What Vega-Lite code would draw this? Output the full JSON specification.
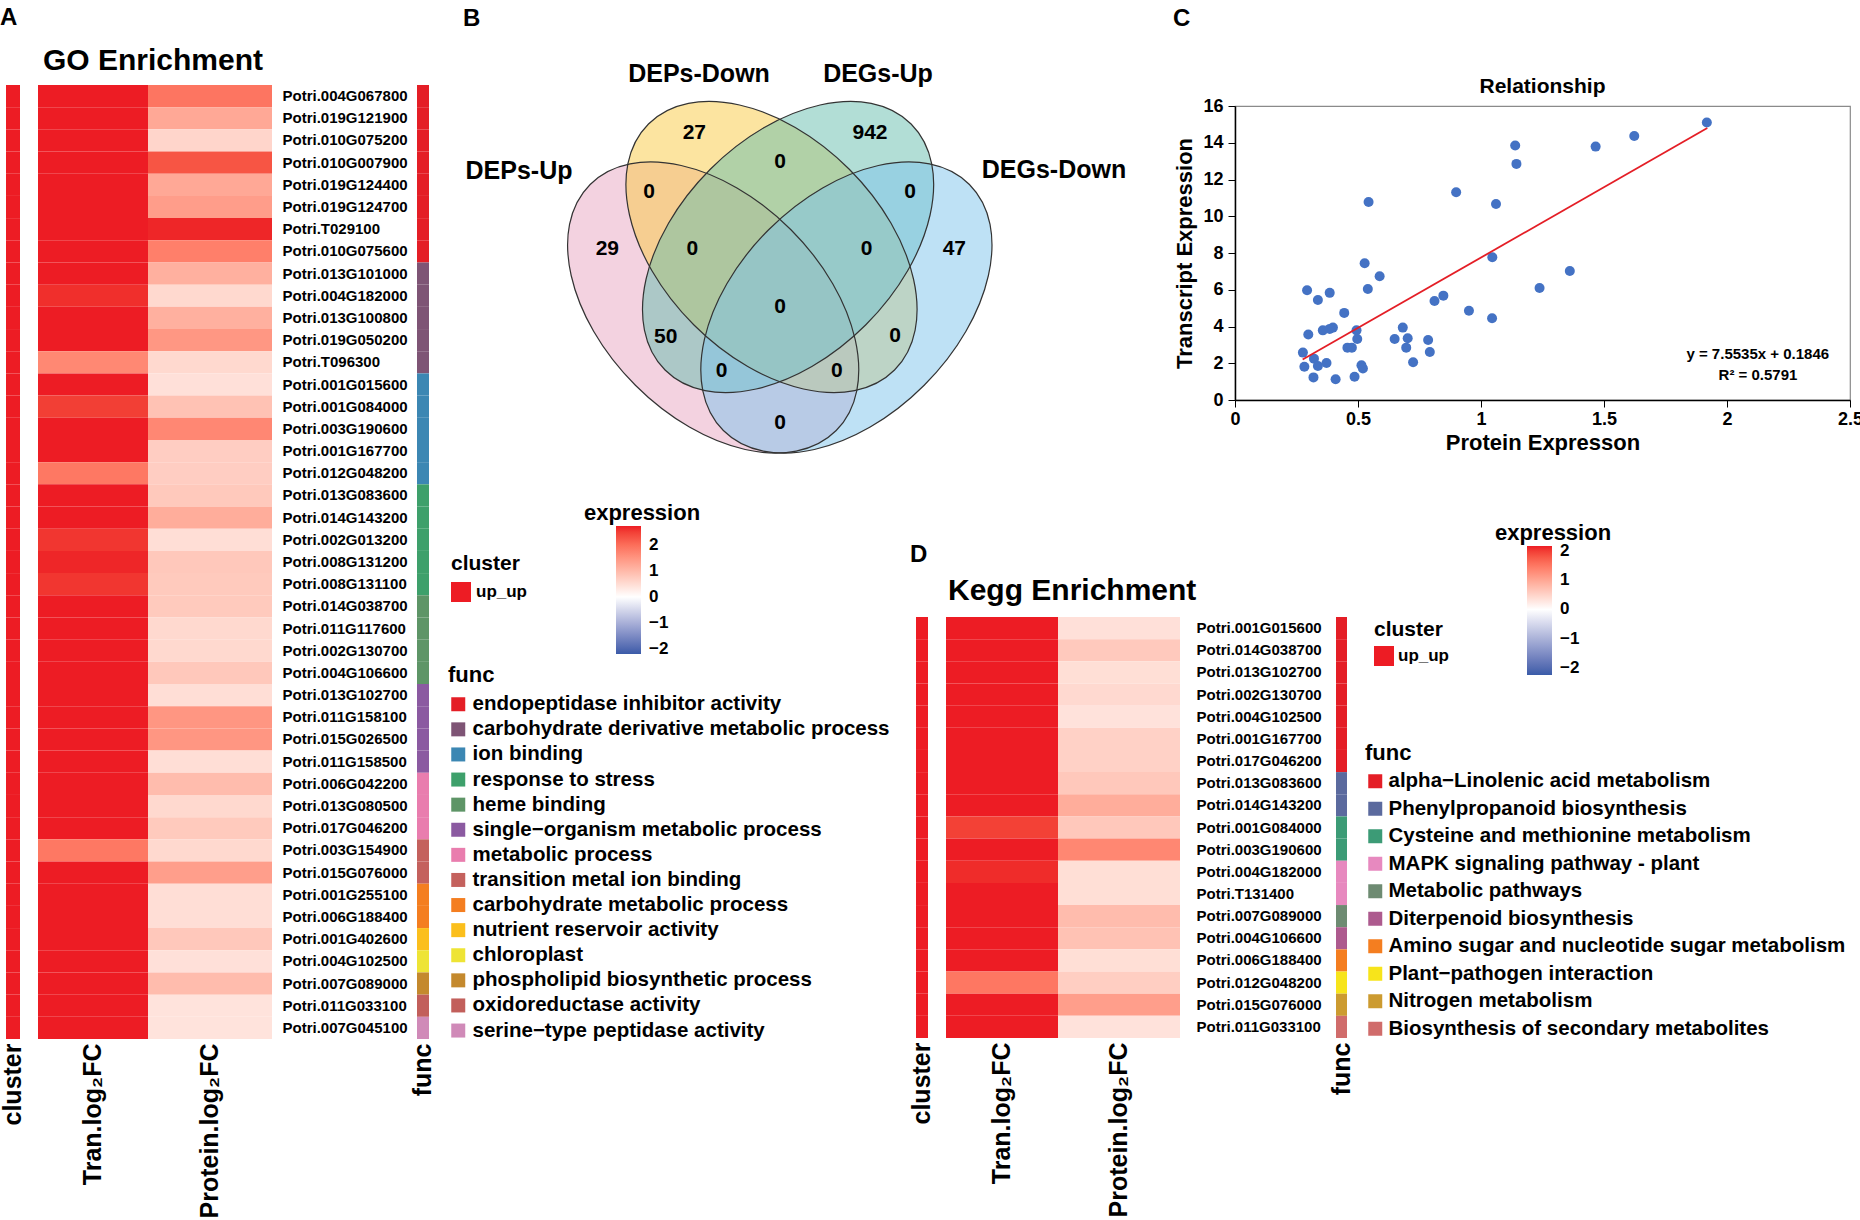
{
"$schema": "https://vega.github.io/schema/vega-lite/v6.json",
"background": "white",
"padding": {"top": 6, "left": 0, "right": 0, "bottom": 0},
"config": {
  "view": {"stroke": null},
  "font": "Liberation Sans",
  "title": {"color": "#000", "fontWeight": "bold"},
  "axis": {"labelColor": "#000", "titleColor": "#000"},
  "legend": {"labelColor": "#000", "titleColor": "#000", "labelFontWeight": "bold", "titleFontWeight": "bold", "padding": 0, "labelLimit": 800}
},
"datasets": {
  "go": [
    {"gene": "Potri.004G067800", "cluster": "up_up", "func": "endopeptidase inhibitor activity", "tran": 3, "protein": 1.91},
    {"gene": "Potri.019G121900", "cluster": "up_up", "func": "endopeptidase inhibitor activity", "tran": 3, "protein": 1.24},
    {"gene": "Potri.010G075200", "cluster": "up_up", "func": "endopeptidase inhibitor activity", "tran": 3, "protein": 0.6},
    {"gene": "Potri.010G007900", "cluster": "up_up", "func": "endopeptidase inhibitor activity", "tran": 3, "protein": 2.29},
    {"gene": "Potri.019G124400", "cluster": "up_up", "func": "endopeptidase inhibitor activity", "tran": 3, "protein": 1.24},
    {"gene": "Potri.019G124700", "cluster": "up_up", "func": "endopeptidase inhibitor activity", "tran": 3, "protein": 1.39},
    {"gene": "Potri.T029100", "cluster": "up_up", "func": "endopeptidase inhibitor activity", "tran": 3, "protein": 2.68},
    {"gene": "Potri.010G075600", "cluster": "up_up", "func": "endopeptidase inhibitor activity", "tran": 3, "protein": 1.79},
    {"gene": "Potri.013G101000", "cluster": "up_up", "func": "carbohydrate derivative metabolic process", "tran": 3, "protein": 1.12},
    {"gene": "Potri.004G182000", "cluster": "up_up", "func": "carbohydrate derivative metabolic process", "tran": 2.62, "protein": 0.55},
    {"gene": "Potri.013G100800", "cluster": "up_up", "func": "carbohydrate derivative metabolic process", "tran": 3, "protein": 1.12},
    {"gene": "Potri.019G050200", "cluster": "up_up", "func": "carbohydrate derivative metabolic process", "tran": 3, "protein": 1.47},
    {"gene": "Potri.T096300", "cluster": "up_up", "func": "carbohydrate derivative metabolic process", "tran": 1.67, "protein": 0.55},
    {"gene": "Potri.001G015600", "cluster": "up_up", "func": "ion binding", "tran": 3, "protein": 0.44},
    {"gene": "Potri.001G084000", "cluster": "up_up", "func": "ion binding", "tran": 2.5, "protein": 0.87},
    {"gene": "Potri.003G190600", "cluster": "up_up", "func": "ion binding", "tran": 3, "protein": 1.68},
    {"gene": "Potri.001G167700", "cluster": "up_up", "func": "ion binding", "tran": 3, "protein": 0.71},
    {"gene": "Potri.012G048200", "cluster": "up_up", "func": "ion binding", "tran": 1.88, "protein": 0.71},
    {"gene": "Potri.013G083600", "cluster": "up_up", "func": "response to stress", "tran": 3, "protein": 0.78},
    {"gene": "Potri.014G143200", "cluster": "up_up", "func": "response to stress", "tran": 3, "protein": 1.17},
    {"gene": "Potri.002G013200", "cluster": "up_up", "func": "response to stress", "tran": 2.57, "protein": 0.47},
    {"gene": "Potri.008G131200", "cluster": "up_up", "func": "response to stress", "tran": 2.68, "protein": 0.79},
    {"gene": "Potri.008G131100", "cluster": "up_up", "func": "response to stress", "tran": 2.57, "protein": 0.76},
    {"gene": "Potri.014G038700", "cluster": "up_up", "func": "heme binding", "tran": 3, "protein": 0.76},
    {"gene": "Potri.011G117600", "cluster": "up_up", "func": "heme binding", "tran": 3, "protein": 0.55},
    {"gene": "Potri.002G130700", "cluster": "up_up", "func": "heme binding", "tran": 3, "protein": 0.55},
    {"gene": "Potri.004G106600", "cluster": "up_up", "func": "heme binding", "tran": 3, "protein": 0.79},
    {"gene": "Potri.013G102700", "cluster": "up_up", "func": "single−organism metabolic process", "tran": 3, "protein": 0.47},
    {"gene": "Potri.011G158100", "cluster": "up_up", "func": "single−organism metabolic process", "tran": 3, "protein": 1.49},
    {"gene": "Potri.015G026500", "cluster": "up_up", "func": "single−organism metabolic process", "tran": 3, "protein": 1.49},
    {"gene": "Potri.011G158500", "cluster": "up_up", "func": "single−organism metabolic process", "tran": 3, "protein": 0.47},
    {"gene": "Potri.006G042200", "cluster": "up_up", "func": "metabolic process", "tran": 3, "protein": 0.96},
    {"gene": "Potri.013G080500", "cluster": "up_up", "func": "metabolic process", "tran": 3, "protein": 0.55},
    {"gene": "Potri.017G046200", "cluster": "up_up", "func": "metabolic process", "tran": 3, "protein": 0.76},
    {"gene": "Potri.003G154900", "cluster": "up_up", "func": "transition metal ion binding", "tran": 1.88, "protein": 0.55},
    {"gene": "Potri.015G076000", "cluster": "up_up", "func": "transition metal ion binding", "tran": 3, "protein": 1.37},
    {"gene": "Potri.001G255100", "cluster": "up_up", "func": "carbohydrate metabolic process", "tran": 3, "protein": 0.47},
    {"gene": "Potri.006G188400", "cluster": "up_up", "func": "carbohydrate metabolic process", "tran": 3, "protein": 0.47},
    {"gene": "Potri.001G402600", "cluster": "up_up", "func": "nutrient reservoir activity", "tran": 3, "protein": 0.79},
    {"gene": "Potri.004G102500", "cluster": "up_up", "func": "chloroplast", "tran": 3, "protein": 0.44},
    {"gene": "Potri.007G089000", "cluster": "up_up", "func": "phospholipid biosynthetic process", "tran": 3, "protein": 0.96},
    {"gene": "Potri.011G033100", "cluster": "up_up", "func": "oxidoreductase activity", "tran": 3, "protein": 0.4},
    {"gene": "Potri.007G045100", "cluster": "up_up", "func": "serine−type peptidase activity", "tran": 3, "protein": 0.4}
  ],
  "kegg": [
    {"gene": "Potri.001G015600", "cluster": "up_up", "func": "alpha−Linolenic acid metabolism", "tran": 3, "protein": 0.35},
    {"gene": "Potri.014G038700", "cluster": "up_up", "func": "alpha−Linolenic acid metabolism", "tran": 3, "protein": 0.61},
    {"gene": "Potri.013G102700", "cluster": "up_up", "func": "alpha−Linolenic acid metabolism", "tran": 3, "protein": 0.37},
    {"gene": "Potri.002G130700", "cluster": "up_up", "func": "alpha−Linolenic acid metabolism", "tran": 3, "protein": 0.43},
    {"gene": "Potri.004G102500", "cluster": "up_up", "func": "alpha−Linolenic acid metabolism", "tran": 3, "protein": 0.33},
    {"gene": "Potri.001G167700", "cluster": "up_up", "func": "alpha−Linolenic acid metabolism", "tran": 3, "protein": 0.52},
    {"gene": "Potri.017G046200", "cluster": "up_up", "func": "alpha−Linolenic acid metabolism", "tran": 3, "protein": 0.52},
    {"gene": "Potri.013G083600", "cluster": "up_up", "func": "Phenylpropanoid biosynthesis", "tran": 3, "protein": 0.63},
    {"gene": "Potri.014G143200", "cluster": "up_up", "func": "Phenylpropanoid biosynthesis", "tran": 3, "protein": 0.93},
    {"gene": "Potri.001G084000", "cluster": "up_up", "func": "Cysteine and methionine metabolism", "tran": 1.97, "protein": 0.63},
    {"gene": "Potri.003G190600", "cluster": "up_up", "func": "Cysteine and methionine metabolism", "tran": 3, "protein": 1.34},
    {"gene": "Potri.004G182000", "cluster": "up_up", "func": "MAPK signaling pathway - plant", "tran": 2.1, "protein": 0.37},
    {"gene": "Potri.T131400", "cluster": "up_up", "func": "MAPK signaling pathway - plant", "tran": 3, "protein": 0.37},
    {"gene": "Potri.007G089000", "cluster": "up_up", "func": "Metabolic pathways", "tran": 3, "protein": 0.76},
    {"gene": "Potri.004G106600", "cluster": "up_up", "func": "Diterpenoid biosynthesis", "tran": 3, "protein": 0.69},
    {"gene": "Potri.006G188400", "cluster": "up_up", "func": "Amino sugar and nucleotide sugar metabolism", "tran": 3, "protein": 0.37},
    {"gene": "Potri.012G048200", "cluster": "up_up", "func": "Plant−pathogen interaction", "tran": 1.5, "protein": 0.56},
    {"gene": "Potri.015G076000", "cluster": "up_up", "func": "Nitrogen metabolism", "tran": 3, "protein": 1.09},
    {"gene": "Potri.011G033100", "cluster": "up_up", "func": "Biosynthesis of secondary metabolites", "tran": 3, "protein": 0.33}
  ],
  "vennSets": [
    {"set": "DEPs-Up", "u": 0.3361, "v": 0.4308},
    {"set": "DEPs-Down", "u": 0.4103, "v": 0.6017},
    {"set": "DEGs-Up", "u": 0.4314, "v": 0.6017},
    {"set": "DEGs-Down", "u": 0.5056, "v": 0.4308}
  ],
  "vennCounts": [
    {"n": "27", "u": 0.3121, "v": 0.9229},
    {"n": "942", "u": 0.5356, "v": 0.9229},
    {"n": "0", "u": 0.4211, "v": 0.8427},
    {"n": "0", "u": 0.2545, "v": 0.7579},
    {"n": "0", "u": 0.5865, "v": 0.7579},
    {"n": "29", "u": 0.2014, "v": 0.5952},
    {"n": "0", "u": 0.3095, "v": 0.5952},
    {"n": "0", "u": 0.5314, "v": 0.5952},
    {"n": "47", "u": 0.6429, "v": 0.5952},
    {"n": "0", "u": 0.4211, "v": 0.4331},
    {"n": "50", "u": 0.2757, "v": 0.3483},
    {"n": "0", "u": 0.5674, "v": 0.3503},
    {"n": "0", "u": 0.3469, "v": 0.2523},
    {"n": "0", "u": 0.4933, "v": 0.2523},
    {"n": "0", "u": 0.4211, "v": 0.1054}
  ],
  "vennLabels": [
    {"label": "DEPs-Down", "u": 0.3181, "v": 1.0918},
    {"label": "DEGs-Up", "u": 0.5458, "v": 1.0918},
    {"label": "DEPs-Up", "u": 0.0891, "v": 0.8164},
    {"label": "DEGs-Down", "u": 0.7697, "v": 0.8192}
  ],
  "scatter": [
    {"protein": 1.918, "transcript": 15.1}, {"protein": 1.623, "transcript": 14.37}, {"protein": 1.466, "transcript": 13.79},
    {"protein": 1.139, "transcript": 13.85}, {"protein": 1.144, "transcript": 12.85}, {"protein": 0.899, "transcript": 11.31},
    {"protein": 0.543, "transcript": 10.78}, {"protein": 1.061, "transcript": 10.67}, {"protein": 1.046, "transcript": 7.77},
    {"protein": 1.361, "transcript": 7.02}, {"protein": 0.527, "transcript": 7.44}, {"protein": 0.588, "transcript": 6.73},
    {"protein": 0.54, "transcript": 6.04}, {"protein": 1.238, "transcript": 6.1}, {"protein": 0.293, "transcript": 5.97},
    {"protein": 0.385, "transcript": 5.83}, {"protein": 0.337, "transcript": 5.44}, {"protein": 0.847, "transcript": 5.68},
    {"protein": 0.811, "transcript": 5.39}, {"protein": 0.951, "transcript": 4.86}, {"protein": 1.045, "transcript": 4.45},
    {"protein": 0.444, "transcript": 4.74}, {"protein": 0.682, "transcript": 3.94}, {"protein": 0.398, "transcript": 3.94},
    {"protein": 0.385, "transcript": 3.87}, {"protein": 0.357, "transcript": 3.79}, {"protein": 0.494, "transcript": 3.79},
    {"protein": 0.298, "transcript": 3.56}, {"protein": 0.497, "transcript": 3.32}, {"protein": 0.649, "transcript": 3.32},
    {"protein": 0.702, "transcript": 3.36}, {"protein": 0.785, "transcript": 3.27}, {"protein": 0.457, "transcript": 2.85},
    {"protein": 0.475, "transcript": 2.85}, {"protein": 0.696, "transcript": 2.85}, {"protein": 0.792, "transcript": 2.61},
    {"protein": 0.276, "transcript": 2.58}, {"protein": 0.321, "transcript": 2.25}, {"protein": 0.282, "transcript": 1.81},
    {"protein": 0.337, "transcript": 1.85}, {"protein": 0.372, "transcript": 2.01}, {"protein": 0.514, "transcript": 1.89},
    {"protein": 0.52, "transcript": 1.71}, {"protein": 0.724, "transcript": 2.05}, {"protein": 0.319, "transcript": 1.23},
    {"protein": 0.409, "transcript": 1.13}, {"protein": 0.486, "transcript": 1.27}
  ],
  "fit": [
    {"protein": 0.275, "transcript": 2.2},
    {"protein": 1.92, "transcript": 14.8}
  ]
},
"hconcat": [
  {
    "width": 14, "height": 954,
    "data": {"name": "go"},
    "title": {"text": "A", "anchor": "start", "frame": "group", "dx": -6, "offset": 36, "baseline": "alphabetic", "fontSize": 24, "fontWeight": "bold"},
    "mark": {"type": "rect"},
    "encoding": {
      "x": {"datum": "cluster", "type": "nominal", "scale": {"paddingInner": 0, "paddingOuter": 0},
            "axis": {"orient": "bottom", "title": null, "ticks": false, "domain": false, "labelAngle": 270, "labelAlign": "right", "labelBaseline": "middle", "labelFontSize": 25, "labelFontWeight": "bold", "labelPadding": 4, "labelLimit": 400}},
      "y": {"field": "gene", "type": "nominal", "sort": null, "scale": {"paddingInner": 0, "paddingOuter": 0}, "axis": null},
      "color": {"field": "cluster", "type": "nominal", "scale": {"domain": ["up_up"], "range": ["#ed1c24"]},
                "legend": {"orient": "none", "legendX": 445, "legendY": 468, "title": "cluster", "titleFontSize": 21, "titlePadding": 8, "symbolType": "square", "symbolSize": 400, "symbolStrokeWidth": 0, "labelFontSize": 17, "labelOffset": 5}}
    }
  },
  {"width": 18, "height": 1, "data": {"values": []}, "mark": "point"},
  {
    "width": 110, "height": 954,
    "data": {"name": "go"},
    "title": {"text": "GO Enrichment", "anchor": "start", "frame": "group", "dx": 5, "offset": -15, "baseline": "alphabetic", "fontSize": 30, "fontWeight": "bold"},
    "mark": {"type": "rect"},
    "encoding": {
      "x": {"datum": "Tran.log₂FC", "type": "nominal", "scale": {"paddingInner": 0, "paddingOuter": 0},
            "axis": {"orient": "bottom", "title": null, "ticks": false, "domain": false, "labelAngle": 270, "labelAlign": "right", "labelBaseline": "middle", "labelFontSize": 25, "labelFontWeight": "bold", "labelPadding": 4, "labelLimit": 400}},
      "y": {"field": "gene", "type": "nominal", "sort": null, "scale": {"paddingInner": 0, "paddingOuter": 0}, "axis": null},
      "color": {"field": "tran", "type": "quantitative", "scale": {"domain": [-2.2, 0, 2.73], "range": ["#3a5ba8", "#ffffff", "#ed1c24"], "interpolate": "lab", "clamp": true}, "legend": null}
    }
  },
  {
    "width": 124, "height": 954,
    "data": {"name": "go"},
    "mark": {"type": "rect"},
    "encoding": {
      "x": {"datum": "Protein.log₂FC", "type": "nominal", "scale": {"paddingInner": 0, "paddingOuter": 0},
            "axis": {"orient": "bottom", "title": null, "ticks": false, "domain": false, "labelAngle": 270, "labelAlign": "right", "labelBaseline": "middle", "labelFontSize": 25, "labelFontWeight": "bold", "labelPadding": 4, "labelLimit": 400}},
      "y": {"field": "gene", "type": "nominal", "sort": null, "scale": {"paddingInner": 0, "paddingOuter": 0},
            "axis": {"orient": "right", "title": null, "ticks": false, "domain": false, "labelFontSize": 15, "labelFontWeight": "bold", "labelPadding": 10, "labelLimit": 300}},
      "color": {"field": "protein", "type": "quantitative", "scale": {"domain": [-2.2, 0, 2.73], "range": ["#3a5ba8", "#ffffff", "#ed1c24"], "interpolate": "lab", "clamp": true},
                "legend": {"orient": "none", "legendX": 436, "legendY": 418, "title": "expression", "titleFontSize": 22, "titlePadding": 1, "titleAnchor": "middle", "direction": "vertical", "gradientLength": 128, "gradientThickness": 25, "gradientStrokeWidth": 0, "values": [-2, -1, 0, 1, 2], "labelFontSize": 17, "labelOffset": 8, "labelOverlap": false}}
    }
  },
  {"width": 145, "height": 1, "data": {"values": []}, "mark": "point"},
  {
    "width": 12, "height": 954,
    "data": {"name": "go"},
    "mark": {"type": "rect"},
    "encoding": {
      "x": {"datum": "func", "type": "nominal", "scale": {"paddingInner": 0, "paddingOuter": 0},
            "axis": {"orient": "bottom", "title": null, "ticks": false, "domain": false, "labelAngle": 270, "labelAlign": "right", "labelBaseline": "middle", "labelFontSize": 25, "labelFontWeight": "bold", "labelPadding": 4, "labelLimit": 400}},
      "y": {"field": "gene", "type": "nominal", "sort": null, "scale": {"paddingInner": 0, "paddingOuter": 0}, "axis": null},
      "color": {"field": "func", "type": "nominal",
                "scale": {"domain": ["endopeptidase inhibitor activity", "carbohydrate derivative metabolic process", "ion binding", "response to stress", "heme binding", "single−organism metabolic process", "metabolic process", "transition metal ion binding", "carbohydrate metabolic process", "nutrient reservoir activity", "chloroplast", "phospholipid biosynthetic process", "oxidoreductase activity", "serine−type peptidase activity"],
                          "range": ["#e41e26", "#7e5475", "#3c87b3", "#3ea06b", "#5e9567", "#8b5aa1", "#e97dae", "#c4615d", "#f47e20", "#fbbf1c", "#eee435", "#c4892d", "#c25f5b", "#d08ab8"]},
                "legend": {"orient": "none", "legendX": 31, "legendY": 580, "title": "func", "titleFontSize": 22, "titlePadding": 7, "symbolType": "square", "symbolSize": 196, "symbolStrokeWidth": 0, "labelFontSize": 20.5, "labelOffset": 4, "rowPadding": 4.1}}
    }
  },
  {"width": 20, "height": 1, "data": {"values": []}, "mark": "point"},
  {
    "vconcat": [
      {
        "hconcat": [
          {"width": 1, "height": 1, "data": {"values": []}, "mark": "point",
           "title": {"text": "B", "anchor": "start", "frame": "group", "dx": 14, "offset": 35, "baseline": "alphabetic", "fontSize": 24, "fontWeight": "bold"}},
          {"width": 1, "height": 1, "data": {"values": []}, "mark": "point",
           "title": {"text": "C", "anchor": "start", "frame": "group", "dx": 723, "offset": 35, "baseline": "alphabetic", "fontSize": 24, "fontWeight": "bold"}}
        ],
        "spacing": 0, "bounds": "flush"
      },
      {"width": 1, "height": 21, "data": {"values": []}, "mark": "point"},
      {
        "hconcat": [
          {
            "width": 786, "height": 354,
            "layer": [
              {
                "data": {"name": "vennSets"},
                "mark": {"type": "point", "filled": true, "size": 40000, "opacity": 1, "fillOpacity": 0.5, "strokeWidth": 0},
                "encoding": {
                  "x": {"field": "u", "type": "quantitative", "scale": {"domain": [0, 1], "nice": false, "zero": false}, "axis": null},
                  "y": {"field": "v", "type": "quantitative", "scale": {"domain": [0, 1], "nice": false, "zero": false}, "axis": null},
                  "fill": {"field": "set", "type": "nominal", "sort": null, "scale": {"domain": ["DEPs-Up", "DEPs-Down", "DEGs-Up", "DEGs-Down"], "range": ["#e7a5c1", "#f9c941", "#65bdad", "#7dc3eb"]}, "legend": null},
                  "shape": {"field": "set", "type": "nominal", "sort": null, "scale": {"domain": ["DEPs-Up", "DEPs-Down", "DEGs-Up", "DEGs-Down"],
                    "range": [
                      "M1.2303,1.2303C0.8007,1.6599,-0.0983,1.4573,-0.7778,0.7778C-1.4573,0.0983,-1.6599,-0.8007,-1.2303,-1.2303C-0.8007,-1.6599,0.0983,-1.4573,0.7778,-0.7778C1.4573,-0.0983,1.6599,0.8007,1.2303,1.2303Z",
                      "M1.2303,1.2303C0.8007,1.6599,-0.0983,1.4573,-0.7778,0.7778C-1.4573,0.0983,-1.6599,-0.8007,-1.2303,-1.2303C-0.8007,-1.6599,0.0983,-1.4573,0.7778,-0.7778C1.4573,-0.0983,1.6599,0.8007,1.2303,1.2303Z",
                      "M-1.2303,1.2303C-0.8007,1.6599,0.0983,1.4573,0.7778,0.7778C1.4573,0.0983,1.6599,-0.8007,1.2303,-1.2303C0.8007,-1.6599,-0.0983,-1.4573,-0.7778,-0.7778C-1.4573,-0.0983,-1.6599,0.8007,-1.2303,1.2303Z",
                      "M-1.2303,1.2303C-0.8007,1.6599,0.0983,1.4573,0.7778,0.7778C1.4573,0.0983,1.6599,-0.8007,1.2303,-1.2303C0.8007,-1.6599,-0.0983,-1.4573,-0.7778,-0.7778C-1.4573,-0.0983,-1.6599,0.8007,-1.2303,1.2303Z"
                    ]}, "legend": null}
                }
              },
              {
                "data": {"name": "vennSets"},
                "mark": {"type": "point", "filled": false, "size": 40000, "opacity": 1, "stroke": "#333333", "strokeWidth": 1.2},
                "encoding": {
                  "x": {"field": "u", "type": "quantitative"},
                  "y": {"field": "v", "type": "quantitative"},
                  "shape": {"field": "set", "type": "nominal", "sort": null, "legend": null}
                }
              },
              {
                "data": {"name": "vennCounts"},
                "mark": {"type": "text", "fontSize": 21, "fontWeight": "bold", "color": "#000", "align": "center", "baseline": "middle"},
                "encoding": {
                  "x": {"field": "u", "type": "quantitative"},
                  "y": {"field": "v", "type": "quantitative"},
                  "text": {"field": "n"}
                }
              },
              {
                "data": {"name": "vennLabels"},
                "mark": {"type": "text", "fontSize": 25, "fontWeight": "bold", "color": "#000", "align": "center", "baseline": "middle"},
                "encoding": {
                  "x": {"field": "u", "type": "quantitative"},
                  "y": {"field": "v", "type": "quantitative"},
                  "text": {"field": "label"}
                }
              }
            ]
          },
          {
            "width": 615, "height": 294,
            "view": {"stroke": "#8a8a8a", "strokeWidth": 1.2},
            "title": {"text": "Relationship", "anchor": "middle", "frame": "group", "offset": -17, "baseline": "alphabetic", "fontSize": 21, "fontWeight": "bold"},
            "layer": [
              {
                "data": {"name": "scatter"},
                "mark": {"type": "point", "filled": true, "color": "#4472c4", "size": 100, "opacity": 1},
                "encoding": {
                  "x": {"field": "protein", "type": "quantitative", "scale": {"domain": [0, 2.5], "nice": false},
                        "axis": {"values": [0, 0.5, 1, 1.5, 2, 2.5], "format": "~g", "title": "Protein Expresson", "grid": false, "tickSize": 7, "tickColor": "#000", "domainColor": "#000", "domainWidth": 1.5, "labelFontSize": 18, "labelFontWeight": "bold", "labelPadding": 3, "labelFlush": false, "labelOverlap": false, "titleFontSize": 22, "titleFontWeight": "bold", "titlePadding": 4}},
                  "y": {"field": "transcript", "type": "quantitative", "scale": {"domain": [0, 16], "nice": false},
                        "axis": {"values": [0, 2, 4, 6, 8, 10, 12, 14, 16], "format": "~g", "title": "Transcript Expression", "grid": false, "tickSize": 7, "tickColor": "#000", "domainColor": "#000", "domainWidth": 1.5, "labelFontSize": 18, "labelFontWeight": "bold", "labelPadding": 5, "labelOverlap": false, "labelFlush": false, "titleFontSize": 22, "titleFontWeight": "bold", "titlePadding": 6}}
                }
              },
              {
                "data": {"name": "fit"},
                "mark": {"type": "line", "color": "#e41e26", "strokeWidth": 1.8},
                "encoding": {
                  "x": {"field": "protein", "type": "quantitative",
                        "axis": {"values": [0, 0.5, 1, 1.5, 2, 2.5], "format": "~g", "title": "Protein Expresson", "grid": false, "tickSize": 7, "tickColor": "#000", "domainColor": "#000", "domainWidth": 1.5, "labelFontSize": 18, "labelFontWeight": "bold", "labelPadding": 3, "labelFlush": false, "labelOverlap": false, "titleFontSize": 22, "titleFontWeight": "bold", "titlePadding": 4}},
                  "y": {"field": "transcript", "type": "quantitative",
                        "axis": {"values": [0, 2, 4, 6, 8, 10, 12, 14, 16], "format": "~g", "title": "Transcript Expression", "grid": false, "tickSize": 7, "tickColor": "#000", "domainColor": "#000", "domainWidth": 1.5, "labelFontSize": 18, "labelFontWeight": "bold", "labelPadding": 5, "labelOverlap": false, "labelFlush": false, "titleFontSize": 22, "titleFontWeight": "bold", "titlePadding": 6}}
                }
              },
              {
                "data": {"values": [{"label": "y = 7.5535x + 0.1846"}]},
                "mark": {"type": "text", "fontSize": 15, "fontWeight": "bold", "color": "#000", "align": "center", "baseline": "middle"},
                "encoding": {
                  "x": {"datum": 2.125, "type": "quantitative",
                        "axis": {"values": [0, 0.5, 1, 1.5, 2, 2.5], "format": "~g", "title": "Protein Expresson", "grid": false, "tickSize": 7, "tickColor": "#000", "domainColor": "#000", "domainWidth": 1.5, "labelFontSize": 18, "labelFontWeight": "bold", "labelPadding": 3, "labelFlush": false, "labelOverlap": false, "titleFontSize": 22, "titleFontWeight": "bold", "titlePadding": 4}},
                  "y": {"datum": 2.53, "type": "quantitative",
                        "axis": {"values": [0, 2, 4, 6, 8, 10, 12, 14, 16], "format": "~g", "title": "Transcript Expression", "grid": false, "tickSize": 7, "tickColor": "#000", "domainColor": "#000", "domainWidth": 1.5, "labelFontSize": 18, "labelFontWeight": "bold", "labelPadding": 5, "labelOverlap": false, "labelFlush": false, "titleFontSize": 22, "titleFontWeight": "bold", "titlePadding": 6}},
                  "text": {"field": "label"}
                }
              },
              {
                "data": {"values": [{"label": "R² = 0.5791"}]},
                "mark": {"type": "text", "fontSize": 15, "fontWeight": "bold", "color": "#000", "align": "center", "baseline": "middle"},
                "encoding": {
                  "x": {"datum": 2.126, "type": "quantitative",
                        "axis": {"values": [0, 0.5, 1, 1.5, 2, 2.5], "format": "~g", "title": "Protein Expresson", "grid": false, "tickSize": 7, "tickColor": "#000", "domainColor": "#000", "domainWidth": 1.5, "labelFontSize": 18, "labelFontWeight": "bold", "labelPadding": 3, "labelFlush": false, "labelOverlap": false, "titleFontSize": 22, "titleFontWeight": "bold", "titlePadding": 4}},
                  "y": {"datum": 1.36, "type": "quantitative",
                        "axis": {"values": [0, 2, 4, 6, 8, 10, 12, 14, 16], "format": "~g", "title": "Transcript Expression", "grid": false, "tickSize": 7, "tickColor": "#000", "domainColor": "#000", "domainWidth": 1.5, "labelFontSize": 18, "labelFontWeight": "bold", "labelPadding": 5, "labelOverlap": false, "labelFlush": false, "titleFontSize": 22, "titleFontWeight": "bold", "titlePadding": 6}},
                  "text": {"field": "label"}
                }
              }
            ]
          }
        ],
        "spacing": 0, "bounds": "flush",
        "resolve": {"scale": {"color": "independent"}, "legend": {"color": "independent"}}
      },
      {"width": 1, "height": 511, "data": {"values": []}, "mark": "point"},
      {
        "hconcat": [
          {"width": 467, "height": 1, "data": {"values": []}, "mark": "point"},
          {
            "width": 12, "height": 421,
            "data": {"name": "kegg"},
            "title": {"text": "D", "anchor": "start", "frame": "group", "dx": -6, "offset": 31, "baseline": "alphabetic", "fontSize": 24, "fontWeight": "bold"},
            "mark": {"type": "rect"},
            "encoding": {
              "x": {"datum": "cluster", "type": "nominal", "scale": {"paddingInner": 0, "paddingOuter": 0},
                    "axis": {"orient": "bottom", "title": null, "ticks": false, "domain": false, "labelAngle": 270, "labelAlign": "right", "labelBaseline": "middle", "labelFontSize": 25, "labelFontWeight": "bold", "labelPadding": 4, "labelLimit": 400}},
              "y": {"field": "gene", "type": "nominal", "sort": null, "scale": {"paddingInner": 0, "paddingOuter": 0}, "axis": null},
              "color": {"field": "cluster", "type": "nominal", "scale": {"domain": ["up_up"], "range": ["#ed1c24"]},
                        "legend": {"orient": "none", "legendX": 458, "legendY": 2, "title": "cluster", "titleFontSize": 21, "titlePadding": 6, "symbolType": "square", "symbolSize": 400, "symbolStrokeWidth": 0, "labelFontSize": 17, "labelOffset": 4}}
            }
          },
          {"width": 18, "height": 1, "data": {"values": []}, "mark": "point"},
          {
            "width": 112, "height": 421,
            "data": {"name": "kegg"},
            "title": {"text": "Kegg Enrichment", "anchor": "start", "frame": "group", "dx": 2, "offset": -13, "baseline": "alphabetic", "fontSize": 30, "fontWeight": "bold"},
            "mark": {"type": "rect"},
            "encoding": {
              "x": {"datum": "Tran.log₂FC", "type": "nominal", "scale": {"paddingInner": 0, "paddingOuter": 0},
                    "axis": {"orient": "bottom", "title": null, "ticks": false, "domain": false, "labelAngle": 270, "labelAlign": "right", "labelBaseline": "middle", "labelFontSize": 25, "labelFontWeight": "bold", "labelPadding": 4, "labelLimit": 400}},
              "y": {"field": "gene", "type": "nominal", "sort": null, "scale": {"paddingInner": 0, "paddingOuter": 0}, "axis": null},
              "color": {"field": "tran", "type": "quantitative", "scale": {"domain": [-2.24, 0, 2.17], "range": ["#3a5ba8", "#ffffff", "#ed1c24"], "interpolate": "lab", "clamp": true}, "legend": null}
            }
          },
          {
            "width": 122, "height": 421,
            "data": {"name": "kegg"},
            "mark": {"type": "rect"},
            "encoding": {
              "x": {"datum": "Protein.log₂FC", "type": "nominal", "scale": {"paddingInner": 0, "paddingOuter": 0},
                    "axis": {"orient": "bottom", "title": null, "ticks": false, "domain": false, "labelAngle": 270, "labelAlign": "right", "labelBaseline": "middle", "labelFontSize": 25, "labelFontWeight": "bold", "labelPadding": 4, "labelLimit": 400}},
              "y": {"field": "gene", "type": "nominal", "sort": null, "scale": {"paddingInner": 0, "paddingOuter": 0},
                    "axis": {"orient": "right", "title": null, "ticks": false, "domain": false, "labelFontSize": 15, "labelFontWeight": "bold", "labelPadding": 16, "labelLimit": 300}},
              "color": {"field": "protein", "type": "quantitative", "scale": {"domain": [-2.24, 0, 2.17], "range": ["#3a5ba8", "#ffffff", "#ed1c24"], "interpolate": "lab", "clamp": true},
                        "legend": {"orient": "none", "legendX": 437, "legendY": -94, "title": "expression", "titleFontSize": 22, "titlePadding": 1, "titleAnchor": "middle", "direction": "vertical", "gradientLength": 129, "gradientThickness": 25, "gradientStrokeWidth": 0, "values": [-2, -1, 0, 1, 2], "labelFontSize": 17, "labelOffset": 8, "labelOverlap": false}}
            }
          },
          {"width": 156, "height": 1, "data": {"values": []}, "mark": "point"},
          {
            "width": 11, "height": 421,
            "data": {"name": "kegg"},
            "mark": {"type": "rect"},
            "encoding": {
              "x": {"datum": "func", "type": "nominal", "scale": {"paddingInner": 0, "paddingOuter": 0},
                    "axis": {"orient": "bottom", "title": null, "ticks": false, "domain": false, "labelAngle": 270, "labelAlign": "right", "labelBaseline": "middle", "labelFontSize": 25, "labelFontWeight": "bold", "labelPadding": 4, "labelLimit": 400}},
              "y": {"field": "gene", "type": "nominal", "sort": null, "scale": {"paddingInner": 0, "paddingOuter": 0}, "axis": null},
              "color": {"field": "func", "type": "nominal",
                        "scale": {"domain": ["alpha−Linolenic acid metabolism", "Phenylpropanoid biosynthesis", "Cysteine and methionine metabolism", "MAPK signaling pathway - plant", "Metabolic pathways", "Diterpenoid biosynthesis", "Amino sugar and nucleotide sugar metabolism", "Plant−pathogen interaction", "Nitrogen metabolism", "Biosynthesis of secondary metabolites"],
                                  "range": ["#e41e26", "#5b6a9e", "#3c9b76", "#e789bf", "#6e8b72", "#ad5a8e", "#f47e20", "#f7e41b", "#cc9b30", "#d06c6b"]},
                        "legend": {"orient": "none", "legendX": 29, "legendY": 126, "title": "func", "titleFontSize": 22, "titlePadding": 6, "symbolType": "square", "symbolSize": 196, "symbolStrokeWidth": 0, "labelFontSize": 20.5, "labelOffset": 3, "rowPadding": 6.5}}
            }
          }
        ],
        "spacing": 0, "bounds": "flush",
        "resolve": {"scale": {"color": "independent"}, "legend": {"color": "independent"}}
      }
    ],
    "spacing": 0, "bounds": "flush",
    "resolve": {"scale": {"color": "independent"}, "legend": {"color": "independent"}}
  }
],
"spacing": 0,
"bounds": "flush",
"resolve": {"scale": {"color": "independent"}, "legend": {"color": "independent"}}
}
